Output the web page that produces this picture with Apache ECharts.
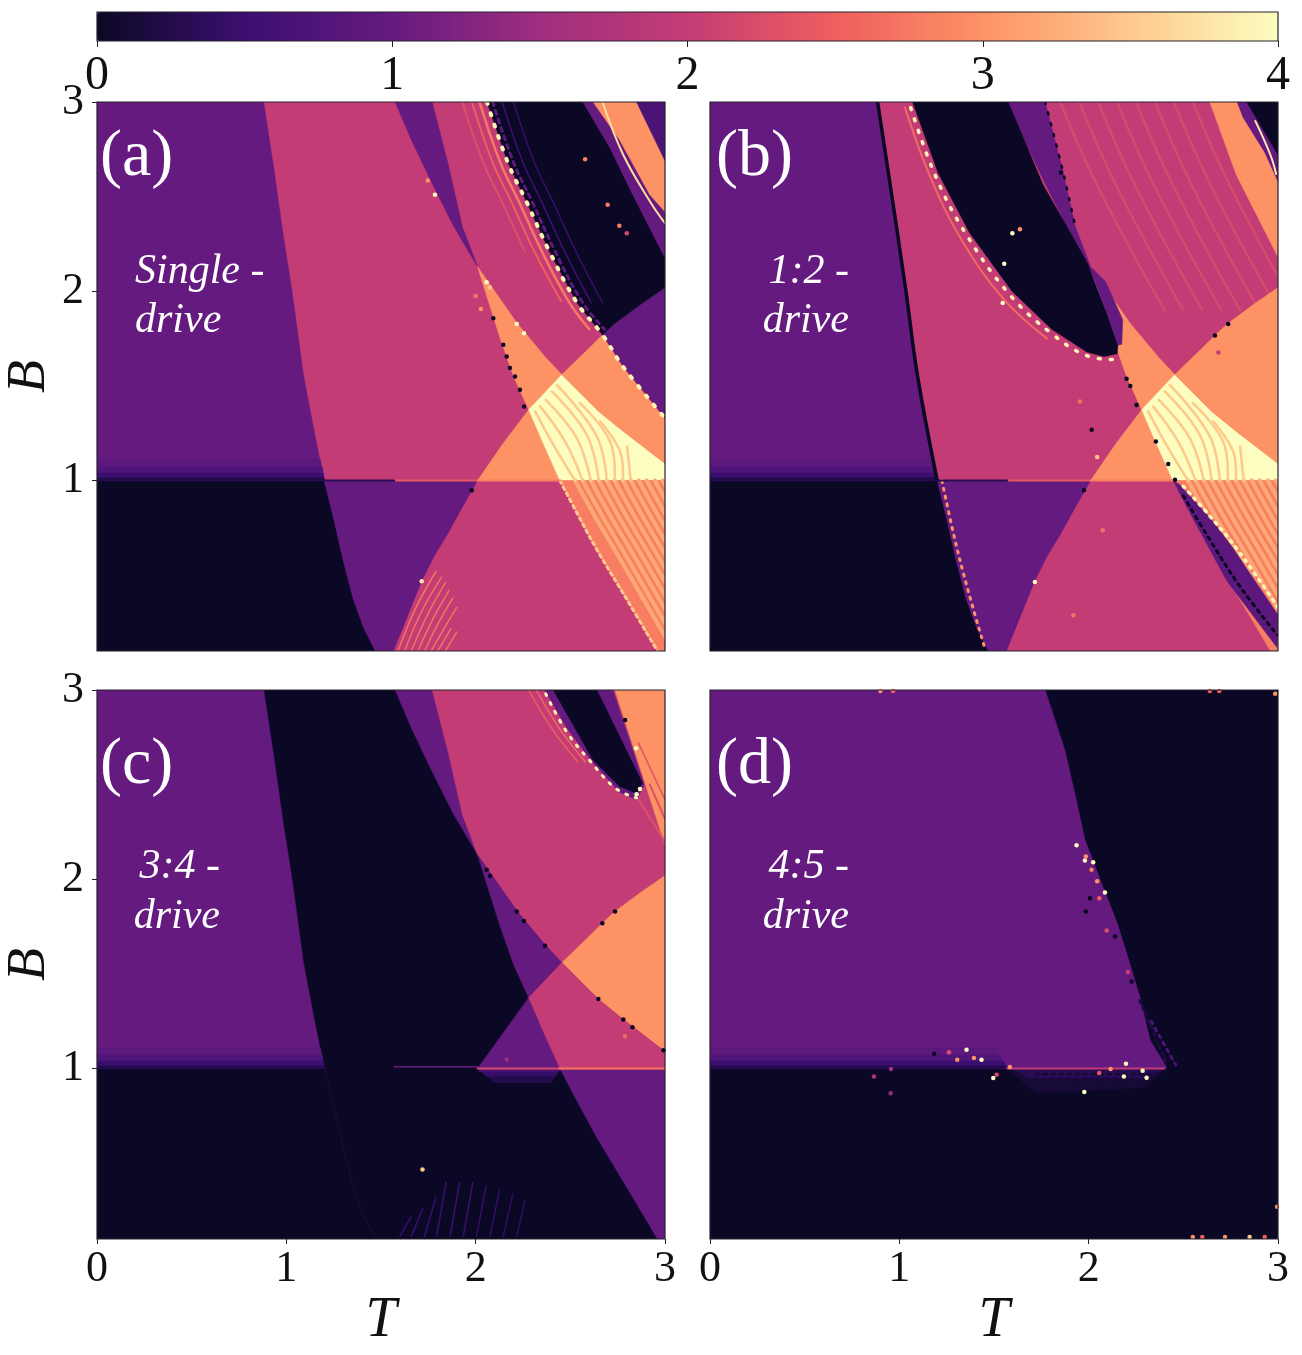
<!DOCTYPE html>
<html>
<head>
<meta charset="utf-8">
<script src="https://cdn.jsdelivr.net/npm/echarts@6/dist/echarts.min.js"></script>
<style>html,body{margin:0;background:#fff}#main{width:1302px;height:1355px}</style>
</head>
<body>
<div id="main"></div>
<script>
// colour scale of the bar at the top, one colour per 0.5
var barColors = ['#0b0825', '#3b0f70', '#651a80', '#9e2e7f', '#c43c75', '#ee5f5e', '#fd9265', '#fec98d', '#fcfdbf'];
var barTicks = [0, 1, 2, 3, 4];
var bTicks = [1, 2, 3];

// phase boundaries, [T, B]
var C1 = [[.88,3],[.935,2.64],[.98,2.32],[1.03,2],[1.09,1.56],[1.145,1.27],[1.2,1],[1.25,.8],[1.3,.58],[1.355,.37],[1.41,.22],[1.47,.1]];
var C2 = [[1.575,3],[1.66,2.8],[1.76,2.59],[1.88,2.35],[2.01,2.13],[2.06,1.97],[2.13,1.75],[2.2,1.55],[2.28,1.375],[2.36,1.19],[2.445,1],[2.54,.82],[2.64,.636],[2.8,.37],[2.96,.1]];
var C3 = [[1.77,3],[1.855,2.67],[1.93,2.34],[2.01,2.13],[2.22,1.83],[2.37,1.65],[2.455,1.56],[2.65,1.365],[2.78,1.26],[3,1.09]];
var C4 = [[1.565,.1],[1.63,.26],[1.715,.47],[1.78,.6],[1.85,.715],[1.93,.86],[2.01,1],[2.14,1.19],[2.28,1.375],[2.37,1.47],[2.455,1.56],[2.6,1.7],[2.67,1.77],[2.735,1.83],[2.87,1.93],[3,2.02]];
var C5 = [[2.06,3],[2.17,2.68],[2.27,2.47],[2.39,2.21],[2.535,1.94],[2.67,1.77],[2.78,1.6],[3,1.33]];
var box = [[0,.1],[3,.1],[3,3],[0,3]];

function rev(c) { return c.slice().reverse(); }
function seg(c, lo, hi) { return c.filter(function (p) { return p[1] >= lo && p[1] <= hi; }); }

var leftOfC1 = [[0,3]].concat(C1, [[0,.1]]);
var darkLeft = [[0,1]].concat(seg(C1,.1,1), [[0,.1]]);
var underC4 = seg(C1,.1,1).concat(seg(C4,.1,1));
var wedge = seg(C2,2.13,3).concat(rev(seg(C3,2.13,3)));
var orangeLeft = seg(C3,1.56,2.13).concat(rev(seg(C4,1,1.56)), rev(seg(C2,1,2.13)));
var orangeRight = seg(C3,1.09,1.56).concat(rev(seg(C4,1.56,2.02)));
var yellowPatch = seg(C3,1.09,1.56).concat([[3,1]], rev(seg(C2,1,1.375)));
var belowRight = seg(C2,.1,1).concat([[3,.1],[3,1]]);
var diamond = seg(C3,1.56,2.13).concat(rev(seg(C4,1.375,1.56)), rev(seg(C2,1.375,2.13)));
var triangle = seg(C2,1,1.375).concat([[2.01,1]]);

// dimming just above B = 1
var bands = [
  [.9, [[0,1],[1.2,1],[1.18,1.11],[0,1.11]]],
  [.75, [[0,1],[1.2,1],[1.19,1.07],[0,1.07]]],
  [.5, [[0,1],[1.2,1],[1.195,1.04],[0,1.04]]],
  [.25, [[0,1],[1.2,1],[1.2,1.015],[0,1.015]]]
];

// fringes right of C2, below and above B = 1
var lowFringes = [
  [[2.525,1],[2.625,.82],[2.755,.6],[3.045,.1]],
  [[2.565,1],[2.665,.82],[2.795,.6],[3.085,.1]],
  [[2.608,1],[2.708,.82],[2.838,.6],[3.128,.1]],
  [[2.65,1],[2.75,.82],[2.88,.6],[3.17,.1]],
  [[2.692,1],[2.792,.82],[2.922,.6],[3.212,.1]],
  [[2.734,1],[2.834,.82],[2.964,.6],[3.254,.1]],
  [[2.777,1],[2.877,.82],[3.007,.6]],
  [[2.819,1],[2.919,.82],[3.049,.6]],
  [[2.861,1],[2.961,.82],[3.091,.6]],
  [[2.903,1],[3.003,.82]],
  [[2.946,1],[3.046,.82]],
  [[2.988,1],[3.088,.82]]
];
var highFringes = [
  [[2.314,1.366],[2.41,1.19],[2.525,1]],
  [[2.34,1.392],[2.472,1.207],[2.565,1]],
  [[2.37,1.427],[2.534,1.225],[2.608,1]],
  [[2.402,1.471],[2.587,1.242],[2.65,1]],
  [[2.428,1.506],[2.64,1.234],[2.692,1]],
  [[2.551,1.41],[2.71,1.207],[2.734,1]],
  [[2.657,1.313],[2.763,1.154],[2.777,1]],
  [[2.8,1.18],[2.819,1]]
];
var fanFringes = [
  [[1.59,.1],[1.68,.32],[1.79,.52]],
  [[1.625,.1],[1.715,.31],[1.82,.49]],
  [[1.66,.1],[1.75,.3],[1.84,.46]],
  [[1.695,.1],[1.78,.28],[1.86,.42]],
  [[1.73,.1],[1.81,.26],[1.88,.38]],
  [[1.765,.1],[1.84,.23],[1.9,.33]],
  [[1.8,.1],[1.87,.22]],
  [[1.84,.1],[1.9,.2]]
];
var topFringes = [
  [[1.85,3],[2.05,2.55],[2.4,1.9]],
  [[1.95,3],[2.15,2.55],[2.5,1.9]],
  [[2.05,3],[2.25,2.55],[2.6,1.9]],
  [[2.15,3],[2.35,2.55],[2.7,1.9]],
  [[2.25,3],[2.45,2.55],[2.8,1.9]],
  [[2.35,3],[2.55,2.55],[2.9,1.9]],
  [[2.45,3],[2.65,2.55],[3,1.9]],
  [[2.55,3],[2.75,2.55],[3.1,1.9]]
];

function lines(list, v, w, dash) {
  return list.map(function (c) { return [v, c, w, dash]; });
}

// panel (a): [value, polygon] or [value, polyline, width, dash]
var edgeDarkA = [[2.567,3],[2.71,2.757],[2.83,2.51],[3,2.177]];
var edgeLowA = [[2.62,3],[2.76,2.8],[2.92,2.51],[3,2.42]];
var edgeUpA = [[2.85,3],[3,2.69]];
var regionsA = [[2, box], [1, leftOfC1], [0, darkLeft]].concat(bands, [
  [1, underC4], [1, wedge], [3, orangeLeft], [4, yellowPatch], [2.8, belowRight]
], lines(lowFringes, 3.2, 4.2), lines(highFringes, 3.5, 2.5), lines(fanFringes, 2.7, 1.5), [
  [3.5, seg(C2,.1,1), 3, [3,4]],
  [3, orangeRight],
  [1, seg(C5,1.33,1.77).concat(rev(seg(C4,1.77,2.02)))],
  [0, seg(C5,1.77,3).concat(seg(C4,1.77,2.02), rev(edgeDarkA))],
  [1, edgeDarkA.concat(rev(edgeLowA))],
  [3, edgeLowA.concat(rev(edgeUpA))],
  [.7, edgeUpA.concat([[3,3]])],
  [3.7, [[2.67,3],[2.78,2.72],[2.93,2.46],[3,2.36]], 2],
  [2.75, [[2.02,3],[2.13,2.68],[2.23,2.47],[2.35,2.21],[2.495,1.94],[2.6,1.8]], 2.5],
  [2.5, [[1.98,3],[2.09,2.68],[2.19,2.47],[2.31,2.21],[2.45,1.95]], 2],
  [2.3, [[1.93,3],[2.04,2.68],[2.14,2.47],[2.26,2.21]], 2],
  [.55, [[2.14,3],[2.25,2.68],[2.35,2.47],[2.47,2.21],[2.61,1.94]], 1.5],
  [.45, [[2.2,3],[2.31,2.68],[2.41,2.47],[2.53,2.21],[2.67,1.94]], 1.5],
  [.9, [[2.09,3],[2.2,2.68],[2.3,2.47],[2.42,2.21],[2.565,1.94],[2.68,1.8]], 3, [4,5]],
  [3.9, C5, 4, [2,10]],
  [2.4, [[1.57,1],[2.01,1]], 2],
  [2.8, [[2.01,1],[2.445,1]], 2],
  [.3, [[1.2,1],[1.57,1]], 2]
]);
var dotsA = [[1.785,2.51,4],[2.058,2.048,4],[2.217,1.827,4],[2.255,1.779,4],[1.747,2.585,3],[2.075,2.02,3.5],[2.028,1.906,3],[2,1.975,2.7],[2.578,2.697,2.8],[2.697,2.457,2.8],[2.759,2.346,2.8],[2.798,2.307,2.2],[2.093,1.858,0],[2.146,1.718,0],[2.164,1.656,0],[2.181,1.595,0],[1.715,.468,3.8],[1.979,.949,0],[2.208,1.55,0],[2.234,1.48,0],[2.256,1.392,0]];

// panel (b)
var blobB = [[1.07,3],[1.205,2.625],[1.37,2.31],[1.595,2],[1.805,1.8],[1.99,1.68],[2.08,1.655],[2.15,1.67],[2.155,1.717],[2.1,1.875],[2.03,2.05],[2,2.14],[1.76,2.56],[1.575,3]];
var patchB = [[2,2.14],[2.1,1.875],[2.155,1.717],[2.175,1.72],[2.18,1.85],[2.09,2.05]];
var edgeLowB = [[2.64,3],[2.78,2.615],[3,2.18]];
var edgeUpB = [[2.785,3],[2.815,2.92],[2.93,2.735],[3,2.58]];
var edgeDarkB = [[2.835,3],[3,2.72]];
var regionsB = [[2, box], [1, leftOfC1], [0, darkLeft]].concat(bands, [
  [1, underC4], [3, orangeLeft], [4, yellowPatch], [2.8, belowRight]
], lines(lowFringes, 3.2, 4.2), lines(highFringes, 3.5, 2.5), lines(topFringes, 2.22, 2.5), [
  [3, orangeRight],
  [.9, [[2.445,1],[2.55,.8],[2.73,.47],[2.995,.118],[3,.29],[2.76,.647],[2.64,.805],[2.48,.98]]],
  [0, [[2.5,.92],[2.62,.72],[2.8,.44],[3,.18]], 3, [3,5]],
  [3.9, [[2.5,.97],[2.66,.79],[2.79,.63],[3,.33]], 3.5, [2,6]],
  [1, wedge], [0, blobB], [1, patchB],
  [3, edgeLowB.concat(rev(edgeUpB))],
  [1, edgeUpB.concat(rev(edgeDarkB))],
  [0, edgeDarkB.concat([[3,3]])],
  [0, [[.885,3],[.94,2.64],[1.035,2],[1.095,1.56],[1.2,1]], 3.5],
  [3, [[1.225,1],[1.32,.58],[1.45,.12]], 3, [2,6]],
  [3.9, [[1.06,2.97],[1.195,2.6],[1.36,2.29],[1.585,1.98],[1.8,1.78],[1.99,1.66],[2.15,1.64]], 3.5, [2,10]],
  [2.6, [[1.03,2.97],[1.165,2.6],[1.33,2.27],[1.55,1.96],[1.78,1.75]], 2],
  [0, [[1.77,3],[1.855,2.67],[1.93,2.34]], 2.5, [2,9]],
  [3.8, [[2.88,2.9],[2.96,2.72],[2.99,2.62]], 2],
  [2.4, [[1.57,1],[2.01,1]], 2],
  [2.8, [[2.01,1],[2.445,1]], 2],
  [.3, [[1.2,1],[1.57,1]], 2]
]);
var dotsB = [[1.597,2.307,4],[1.554,2.145,4],[1.546,1.938,4],[1.637,2.328,3],[2.737,1.827,0],[2.667,1.767,0],[1.854,2.627,0],[2.685,1.677,2],[1.716,.465,4],[1.975,.949,0],[2.045,1.125,3.5],[2.016,1.269,0],[1.954,1.418,2.7],[2.074,.738,2.7],[1.919,.289,2.7],[2.2,1.538,0],[2.22,1.5,0],[2.253,1.4,0],[2.355,1.207,0],[2.42,1.088,0],[2.456,1.005,0]];

// panel (c)
var pinkC = C3.slice(0, 7).concat(seg(C4,1.56,2.02), [[3,2.18],[2.735,3]]);
var blobEdgeC = [[2.365,3],[2.48,2.8],[2.62,2.615],[2.76,2.46],[2.85,2.42],[2.89,2.5],[2.725,3]];
var blobC = [[2.41,3],[2.62,2.63],[2.76,2.49],[2.85,2.455],[2.88,2.51],[2.64,3]];
var regionsC = [[0, box], [1, leftOfC1], [0, darkLeft]].concat(bands, [
  [1, wedge], [2, pinkC], [3, [[2.735,3],[3,3],[3,2.18]]],
  [1, blobEdgeC], [0, blobC],
  [3, orangeRight], [1, diamond], [1, triangle], [2, yellowPatch], [1, belowRight],
  [.25, [[2.01,1],[2.445,1],[2.4,.925],[2.1,.925]]],
  [.45, [[2.01,1],[2.445,1],[2.42,.96],[2.06,.96]]],
  [.7, [[2.01,1],[2.445,1],[2.44,.985],[2.02,.985]]],
  [2.6, [[2.32,3],[2.44,2.8],[2.58,2.62]], 1.5],
  [2.5, [[2.28,3],[2.4,2.8],[2.54,2.62]], 1.5],
  [3.9, [[2.37,2.98],[2.48,2.78],[2.6,2.63],[2.74,2.48],[2.85,2.43]], 3, [2,8]],
  [2.3, [[2.86,2.42],[3,2.2]], 2],
  [2.3, [[2.92,2.5],[3,2.32]], 2],
  [2.3, [[2.86,2.72],[3,2.42]], 1.5],
  [1, [[1.57,1.01],[2.01,1.01]], 1.5],
  [2.2, [[2.01,1],[2.445,1]], 2],
  [2.6, [[2.445,1],[3,1]], 2.5],
  [.5, [[1.794,.115],[1.844,.4]], 1.5], [.5, [[1.865,.115],[1.915,.4]], 1.5],
  [.5, [[1.935,.115],[1.985,.4]], 1.5], [.45, [[2.005,.115],[2.055,.38]], 1.5],
  [.45, [[2.076,.115],[2.126,.36]], 1.5], [.4, [[2.146,.115],[2.196,.34]], 1.5],
  [.4, [[2.217,.115],[2.26,.3]], 1.5], [.5, [[1.6,.115],[1.66,.22]], 1.5],
  [.5, [[1.66,.115],[1.72,.26]], 1.5], [.5, [[1.73,.115],[1.79,.32]], 1.5]
]);
var dotsC = [[2.058,2.05,0],[2.076,2.018,0],[2.217,1.83,0],[2.255,1.78,0],[2.736,1.83,0],[2.669,1.768,0],[2.366,1.649,0],[2.789,2.841,0],[2.847,2.692,4],[2.868,2.477,4],[2.85,2.449,4],[2.78,1.259,0],[2.828,1.218,0],[2.648,1.368,0],[1.719,.467,3.5],[2.164,1.048,1.5],[2.789,1.171,2.6],[2.992,1.097,0]];

// panel (d)
var regionsD = [[0, box],
  [1, [[0,3],[1.77,3],[1.82,2.85],[1.875,2.68],[1.93,2.44],[1.98,2.21],[2.06,2],[2.15,1.77],[2.21,1.58],[2.27,1.38],[2.325,1.15],[2.41,1.01],[2.41,1],[0,1]]],
  [.9, [[0,1],[1.57,1],[1.5,1.11],[0,1.11]]],
  [.75, [[0,1],[1.57,1],[1.53,1.07],[0,1.07]]],
  [.5, [[0,1],[1.57,1],[1.55,1.04],[0,1.04]]],
  [.25, [[0,1],[1.57,1],[1.56,1.015],[0,1.015]]],
  [.12, [[1.57,1],[2.4,1],[2.3,.9],[1.72,.87]]],
  [.3, [[1.6,1],[2.4,1],[2.3,.95],[1.68,.95]]],
  [.2, [[2.27,1.36],[2.41,1.03]], 3, [3,4]],
  [.7, [[2.33,1.25],[2.46,1.02]], 3, [3,5]],
  [.1, [[1.72,.97],[2.4,.97]], 2.5, [3,5]],
  [.1, [[1.8,.93],[2.3,.93]], 2, [3,5]],
  [2, [[1.57,1],[2.4,1]], 2]
];
var dotsD = [[1.936,2.18,4],[1.98,2.1,4],[2.024,2.09,4],[2.086,1.93,4],[1.355,1.1,4],[1.434,1.047,4],[1.496,.95,4],[2.197,1.026,4],[2.186,.959,4],[2.306,.952,4],[1.977,.876,4],[2.285,.989,4],[1.985,2.12,3],[2.015,2.05,2.8],[2.045,1.99,3],[2.056,1.9,2.5],[2.095,1.73,2.3],[2.207,1.51,2.1],[1.262,1.087,2.3],[1.306,1.047,3],[1.394,1.056,3],[1.514,.968,2.2],[.866,.959,1.7],[.954,.87,1.4],[.956,.998,1.5],[2.056,.977,2.4],[2.116,.998,3],[1.584,1.008,3],[1.184,1.079,0],[2.007,1.9,0],[1.985,1.83,0],[2.139,1.698,0],[2.227,1.46,0],[.9,2.995,3],[.967,2.995,2.5],[2.64,2.995,2.5],[2.69,2.995,2.5],[2.985,2.98,3],[2.55,.11,3],[2.6,.11,2.5],[2.72,.11,3],[2.85,.11,3.5],[2.93,.11,2.5],[2.995,.27,3]];

var panels = [
  { left: 97, top: 102, regions: regionsA, dots: dotsA, showT: false, showB: true },
  { left: 710, top: 102, regions: regionsB, dots: dotsB, showT: false, showB: false },
  { left: 97, top: 690, regions: regionsC, dots: dotsC, showT: true, showB: true },
  { left: 710, top: 690, regions: regionsD, dots: dotsD, showT: true, showB: false }
];

var serif = 'Liberation Serif';
var grids = [], xAxes = [], yAxes = [], series = [];

panels.forEach(function (p, i) {
  grids.push({ left: p.left, top: p.top, width: 568, height: 549, outerBoundsMode: 'none' });
  xAxes.push({
    gridIndex: i, type: 'value', min: 0, max: 3, interval: 1,
    name: p.showT ? 'T' : '', nameLocation: 'middle', nameGap: 54,
    nameTextStyle: { fontFamily: serif, fontStyle: 'italic', fontSize: 56, color: '#111' },
    splitLine: { show: false },
    axisLine: { show: false },
    axisTick: { show: p.showT, length: 5, lineStyle: { color: '#222' } },
    axisLabel: { show: p.showT, fontFamily: serif, fontSize: 44, color: '#111', margin: 8 }
  });
  yAxes.push({
    gridIndex: i, type: 'value', min: 0.1, max: 3,
    name: p.showB ? 'B' : '', nameLocation: 'middle', nameGap: 40, nameRotate: 90,
    nameTextStyle: { fontFamily: serif, fontStyle: 'italic', fontSize: 54, color: '#111' },
    splitLine: { show: false },
    axisLine: { show: false },
    axisTick: { show: p.showB, length: 5, customValues: bTicks, lineStyle: { color: '#222' } },
    axisLabel: { show: p.showB, fontFamily: serif, fontSize: 44, color: '#111', margin: 13, customValues: bTicks }
  });
  series.push({
    type: 'custom', xAxisIndex: i, yAxisIndex: i, clip: true, silent: true,
    data: p.regions.map(function (r) { return [0, 0, r[0]]; }),
    renderItem: function (params, api) {
      var r = p.regions[params.dataIndex];
      var pts = r[1].map(function (q) { return api.coord(q); });
      var color = api.visual('color');
      if (r[2]) {
        return { type: 'polyline', shape: { points: pts, smooth: 0.4 },
          style: { stroke: color, fill: null, lineWidth: r[2], lineDash: r[3] || null, lineCap: 'round', lineJoin: 'round' } };
      }
      return { type: 'polygon', shape: { points: pts }, style: { fill: color, stroke: color, lineWidth: 0.5 } };
    }
  });
  series.push({
    type: 'scatter', xAxisIndex: i, yAxisIndex: i, silent: true, symbolSize: 4.5, z: 3,
    data: p.dots, itemStyle: { opacity: 1 }
  });
  series.push({
    type: 'custom', xAxisIndex: i, yAxisIndex: i, clip: false, silent: true, z: 5,
    data: [[0, 0, 0]],
    renderItem: function (params, api) {
      return { type: 'polygon', shape: { points: box.map(function (q) { return api.coord(q); }) },
        style: { fill: null, stroke: '#26222c', lineWidth: 1.2 } };
    }
  });
});

// colour bar axis
grids.push({ left: 97, top: 12, width: 1181, height: 29, outerBoundsMode: 'none' });
xAxes.push({
  gridIndex: 4, type: 'value', min: 0, max: 4, interval: 1, z: 10,
  splitLine: { show: false }, axisLine: { show: false },
  axisTick: { length: 6, lineStyle: { color: '#222' }, customValues: barTicks },
  axisLabel: { fontFamily: serif, fontSize: 48, color: '#111', margin: 11, customValues: barTicks }
});
yAxes.push({ gridIndex: 4, type: 'value', min: 0, max: 1, show: false });

function label(text, x, y, size, italic, align) {
  return { type: 'text', x: x, y: y, z: 50, silent: true, style: {
    text: text, fill: '#fff', font: (italic ? 'italic ' : '') + size + 'px "' + serif + '"',
    textAlign: align || 'left', textVerticalAlign: 'middle' } };
}

var chart = echarts.init(document.getElementById('main'));
chart.setOption({
  animation: false,
  backgroundColor: '#fff',
  grid: grids,
  xAxis: xAxes,
  yAxis: yAxes,
  visualMap: {
    type: 'continuous', min: 0, max: 4, dimension: 2, orient: 'horizontal',
    left: 97, top: 12, itemWidth: 29, itemHeight: 1181, padding: 0,
    calculable: false, hoverLink: false, text: null, showLabel: false,
    seriesIndex: series.map(function (s, i) { return i; }),
    inRange: { color: barColors }
  },
  series: series,
  graphic: [
    { type: 'rect', z: 40, silent: true, shape: { x: 97, y: 12, width: 1181, height: 29 },
      style: { fill: null, stroke: '#26222c', lineWidth: 1.2 } },
    label('(a)', 100, 158, 66), label('(b)', 716, 158, 66), label('(c)', 100, 766, 66), label('(d)', 716, 766, 66),
    label('Single -', 135, 272, 42, true), label('drive', 135, 321, 42, true),
    label('1:2 -', 849, 272, 42, true, 'right'), label('drive', 849, 321, 42, true, 'right'),
    label('3:4 -', 220, 867, 42, true, 'right'), label('drive', 220, 917, 42, true, 'right'),
    label('4:5 -', 849, 867, 42, true, 'right'), label('drive', 849, 917, 42, true, 'right')
  ]
});
</script>
</body>
</html>
